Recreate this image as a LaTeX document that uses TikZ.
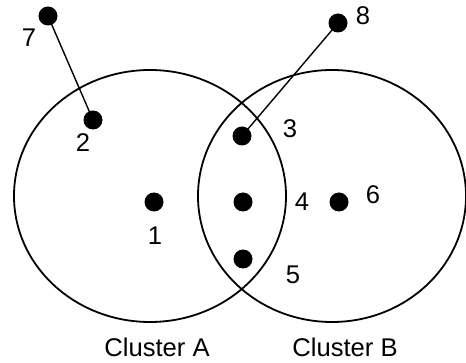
\documentclass[tikz,border=0pt]{standalone}
\usepackage{fontspec}
\setmainfont{Liberation Sans}
\usetikzlibrary{positioning}

\begin{document}
\begin{tikzpicture}[
    x=0.5pt, y=-0.5pt,
    node font=\fontsize{12.8}{15}\selectfont,
    point dot/.style={circle, fill=black, inner sep=0pt, minimum size=9.5pt},
    point label/.style={inner sep=0pt},
    cluster line/.style={line width=0.9pt},
    link line/.style={line width=0.7pt},
]
\useasboundingbox (0,0) rectangle (466,363);

% Cluster outlines
\draw[cluster line] (150,196) ellipse [x radius=136, y radius=126];
\draw[cluster line] (332,196) ellipse [x radius=134, y radius=126];

% Points
\node[point dot] (p1) at (154,202) {};
\node[point dot] (p2) at (93,120) {};
\node[point dot] (p3) at (242,136) {};
\node[point dot] (p4) at (243,202) {};
\node[point dot] (p5) at (243,259) {};
\node[point dot] (p6) at (339,202) {};
\node[point dot] (p7) at (48,16) {};
\node[point dot] (p8) at (338,23) {};

% Links to outliers
\draw[link line] (p7.center) -- (p2.center);
\draw[link line] (p8.center) -- (p3.center);

% Point labels
\node[point label] (l1) at (155,236) {1};
\node[point label] (l2) at (83,143) {2};
\node[point label] (l3) at (290,129) {3};
\node[point label] (l4) at (302,202) {4};
\node[point label] (l5) at (293,275) {5};
\node[point label] (l6) at (373,195) {6};
\node[point label] (l7) at (29,38) {7};
\node[point label] (l8) at (363,16) {8};

% Cluster names
\node[point label] (nameA) at (157,347) {Cluster A};
\node[point label] (nameB) at (345,347) {Cluster B};

\end{tikzpicture}
\end{document}
